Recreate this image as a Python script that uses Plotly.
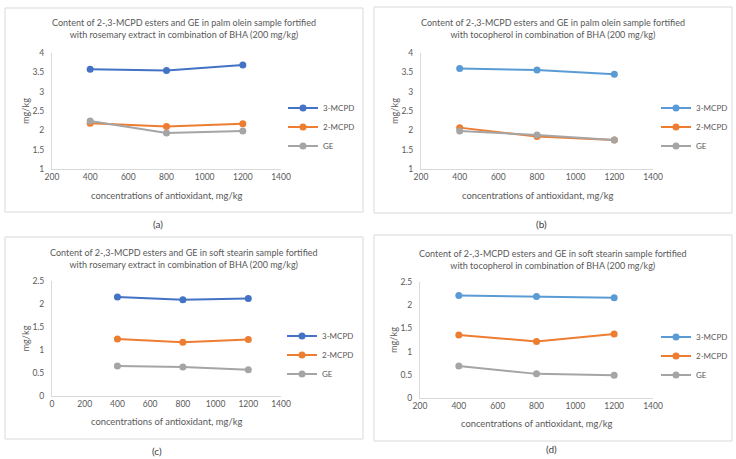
import plotly.graph_objects as go

# ---------------- data ----------------
conc = [400, 800, 1200]
series_names = ["3-MCPD", "2-MCPD", "GE"]

a_3mcpd = [3.58, 3.55, 3.69]
a_2mcpd = [2.18, 2.10, 2.17]
a_ge = [2.24, 1.93, 1.98]

b_3mcpd = [3.60, 3.56, 3.45]
b_2mcpd = [2.07, 1.84, 1.75]
b_ge = [1.98, 1.88, 1.75]

c_3mcpd = [2.15, 2.09, 2.12]
c_2mcpd = [1.24, 1.17, 1.23]
c_ge = [0.65, 0.63, 0.57]

d_3mcpd = [2.21, 2.19, 2.16]
d_2mcpd = [1.36, 1.22, 1.38]
d_ge = [0.69, 0.52, 0.49]

titles = [
    "Content of 2-,3-MCPD esters and GE in palm olein sample fortified<br>with rosemary extract in combination of BHA (200 mg/kg)",
    "Content of 2-,3-MCPD esters and GE in palm olein sample fortified<br>with tocopherol in combination of BHA (200 mg/kg)",
    "Content of 2-,3-MCPD esters and GE in soft stearin sample fortified<br>with rosemary extract in combination of BHA (200 mg/kg)",
    "Content of 2-,3-MCPD esters and GE in soft stearin sample fortified<br>with tocopherol in combination of BHA (200 mg/kg)",
]
captions = ["(a)", "(b)", "(c)", "(d)"]
x_title = "concentrations of antioxidant, mg/kg"
y_title = "mg/kg"

# ---------------- styling ----------------
W, H = 736, 459
FONT = "Lato, Carlito, Calibri, sans-serif"
TXT = "#595959"
AX = "#D9D9D9"
DARK_BLUE = "#4472C4"
LIGHT_BLUE = "#5B9BD5"
ORANGE = "#ED7D31"
GRAY = "#A5A5A5"


def px(x):
    return x / W


def py(y):
    return 1 - y / H


panels = [
    dict(data=[a_3mcpd, a_2mcpd, a_ge], blue=DARK_BLUE, xd=(52, 281), yd=(53, 169),
         xr=[200, 1400], yr=[1, 4], box=(5, 8, 363, 212), ty=28, cap=(158, 224),
         leg=(283, 127), ytx=25, xty=196),
    dict(data=[b_3mcpd, b_2mcpd, b_ge], blue=LIGHT_BLUE, xd=(421, 653), yd=(53, 169),
         xr=[200, 1400], yr=[1, 4], box=(374, 7, 732, 213), ty=28, cap=(541, 224),
         leg=(656, 127), ytx=394, xty=196),
    dict(data=[c_3mcpd, c_2mcpd, c_ge], blue=DARK_BLUE, xd=(52, 281), yd=(281, 396),
         xr=[0, 1400], yr=[0, 2.5], box=(5, 237, 363, 439), ty=258, cap=(157, 451),
         leg=(282, 355), ytx=25, xty=421),
    dict(data=[d_3mcpd, d_2mcpd, d_ge], blue=LIGHT_BLUE, xd=(420, 653), yd=(282, 398),
         xr=[200, 1400], yr=[0, 2.5], box=(374, 235, 732, 441), ty=259, cap=(551, 449),
         leg=(656, 356), ytx=393, xty=423),
]

fig = go.Figure()
shapes = []
annotations = []
layout = {}

for i, p in enumerate(panels):
    n = i + 1
    xa = "x" if n == 1 else f"x{n}"
    ya = "y" if n == 1 else f"y{n}"
    leg = "legend" if n == 1 else f"legend{n}"
    colors = [p["blue"], ORANGE, GRAY]
    for name, vals, col in zip(series_names, p["data"], colors):
        fig.add_trace(go.Scatter(
            x=conc, y=vals, name=name, mode="lines+markers",
            line=dict(color=col, width=2),
            marker=dict(color=col, size=7),
            xaxis=xa, yaxis=ya, legend=leg,
        ))
    xkey = "xaxis" if n == 1 else f"xaxis{n}"
    ykey = "yaxis" if n == 1 else f"yaxis{n}"
    layout[xkey] = dict(
        domain=[px(p["xd"][0]), px(p["xd"][1])], anchor=ya,
        range=p["xr"], dtick=200, tick0=0, showgrid=False, zeroline=False,
        showline=True, linecolor=AX, linewidth=1, ticks="",
        tickfont=dict(family=FONT, size=8.5, color=TXT), fixedrange=True,
        automargin=False,
    )
    layout[ykey] = dict(
        domain=[py(p["yd"][1]), py(p["yd"][0])], anchor=xa,
        range=p["yr"], dtick=0.5, tick0=0, showgrid=False, zeroline=False,
        showline=True, linecolor=AX, linewidth=1, ticks="",
        tickfont=dict(family=FONT, size=8.5, color=TXT), fixedrange=True,
        ticklabelstandoff=5, automargin=False,
    )
    layout[leg] = dict(
        x=px(p["leg"][0]), y=py(p["leg"][1]), xanchor="left", yanchor="middle",
        xref="paper", yref="paper",
        font=dict(family=FONT, size=8, color=TXT),
        bgcolor="rgba(0,0,0,0)", borderwidth=0, itemwidth=30,
    )
    bx0, by0, bx1, by1 = p["box"]
    shapes.append(dict(type="rect", xref="paper", yref="paper",
                       x0=px(bx0), x1=px(bx1), y0=py(by1), y1=py(by0),
                       line=dict(color=AX, width=1), fillcolor="white", layer="below"))
    cx = (bx0 + bx1) / 2
    annotations.append(dict(text=titles[i], xref="paper", yref="paper",
                            x=px(cx), y=py(p["ty"]), xanchor="center", yanchor="middle",
                            showarrow=False, font=dict(family=FONT, size=9.0, color=TXT)))
    annotations.append(dict(text=x_title, xref="paper", yref="paper",
                            x=px((p["xd"][0] + p["xd"][1]) / 2), y=py(p["xty"]),
                            xanchor="center", yanchor="middle", showarrow=False,
                            font=dict(family=FONT, size=9.4, color=TXT)))
    annotations.append(dict(text=y_title, xref="paper", yref="paper",
                            x=px(p["ytx"]), y=py((p["yd"][0] + p["yd"][1]) / 2),
                            xanchor="center", yanchor="middle", textangle=-90,
                            showarrow=False, font=dict(family=FONT, size=9.2, color=TXT)))
    annotations.append(dict(text=captions[i], xref="paper", yref="paper",
                            x=px(p["cap"][0]), y=py(p["cap"][1]),
                            xanchor="center", yanchor="middle", showarrow=False,
                            font=dict(family=FONT, size=10, color="#404040")))

fig.update_layout(
    width=W, height=H,
    margin=dict(l=0, r=0, t=0, b=0, autoexpand=False),
    paper_bgcolor="white", plot_bgcolor="rgba(0,0,0,0)",
    shapes=shapes, annotations=annotations,
    showlegend=True,
    **layout,
)

fig.write_html(
    "out.html",
    config={"displayModeBar": False},
    post_script="document.body.style.margin='0';document.body.style.padding='0';",
)
